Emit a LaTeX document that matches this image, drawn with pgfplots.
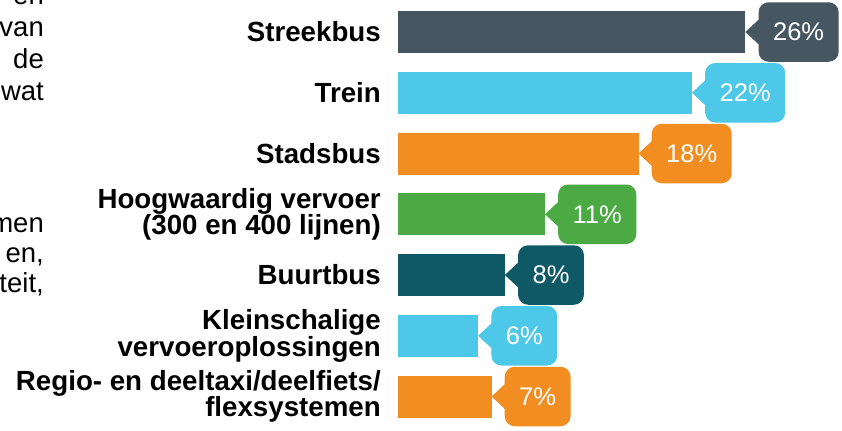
\documentclass[border=0pt]{standalone}
\usepackage{fontspec}
\setmainfont{Liberation Sans}
\usepackage{pgfplots}
\pgfplotsset{compat=1.18}
\definecolor{cslate}{HTML}{475761}
\definecolor{cblue}{HTML}{4EC8E9}
\definecolor{corange}{HTML}{F28D22}
\definecolor{cgreen}{HTML}{4BAA44}
\definecolor{cteal}{HTML}{0F5865}
\pgfdeclareplotmark{lptr}{%
  \pgfpathmoveto{\pgfpoint{0pt}{0pt}}%
  \pgfpathlineto{\pgfpoint{14.5bp}{13.5bp}}%
  \pgfpathlineto{\pgfpoint{14.5bp}{-13.5bp}}%
  \pgfpathclose\pgfusepathqfill}
\pgfplotsset{
  callout/.style={draw=none, fill=#1, mark=lptr, mark options={fill=#1, draw=none},
    every node near coord/.append style={anchor=west, xshift=13bp, fill=#1, text=white,
      rounded corners=10bp, inner xsep=14.5bp, inner ysep=0pt, minimum height=59.5bp,
      font=\fontsize{25.5bp}{25.5bp}\selectfont}}
}
\begin{document}
\begin{tikzpicture}
\path[use as bounding box] (0,0) rectangle (842bp,431bp);
\begin{axis}[
  at={(398bp,4.125bp)}, anchor=south west,
  scale only axis, width=444bp, height=425.25bp,
  xmin=0, xmax=33.23, ymin=-0.5, ymax=6.5, y dir=reverse,
  xbar, bar width=42bp, bar shift=0pt,
  axis line style={draw=none}, major tick length=0pt,
  xtick=\empty, ytick={0,...,6},
  yticklabels={Streekbus, Trein, Stadsbus, {Hoogwaardig vervoer\\(300 en 400 lijnen)}, Buurtbus, {Kleinschalige\\vervoeroplossingen}, {Regio- en deeltaxi/deelfiets/\\flexsystemen}},
  yticklabel style={align=right, inner sep=0pt, font=\fontsize{27.7bp}{26.5bp}\bfseries\selectfont},
  yticklabel shift=17bp,
  clip=false,
  point meta=x,
  nodes near coords={\pgfmathprintnumber[assume math mode=true]{\pgfplotspointmeta}\%},
]
\addplot[callout=cslate] coordinates {(26,0)};
\addplot[callout=cblue] coordinates {(22,1)};
\addplot[callout=corange] coordinates {(18,2)};
\addplot[callout=cgreen] coordinates {(11,3)};
\addplot[callout=cteal] coordinates {(8,4)};
\addplot[callout=cblue] coordinates {(6,5)};
\addplot[callout=corange] coordinates {(7,6)};
\end{axis}
\begin{scope}[every node/.style={anchor=base east, inner sep=0pt, font=\fontsize{27.5bp}{30bp}\selectfont}]
\node at (44bp,426bp) {en};
\node at (44bp,394bp) {van};
\node at (44bp,362bp) {de};
\node at (44bp,330bp) {wat};
\node at (44bp,198bp) {men};
\node at (44bp,168bp) {en,};
\node at (44bp,138bp) {teit,};
\end{scope}
\end{tikzpicture}
\end{document}
